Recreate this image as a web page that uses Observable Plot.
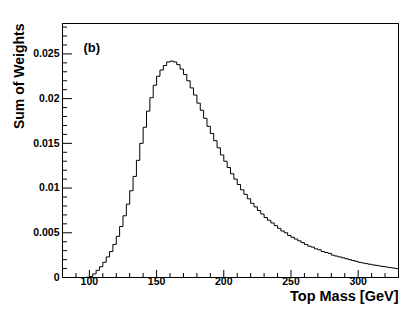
<!DOCTYPE html>
<html>
<head>
<meta charset="utf-8">
<script src="https://cdn.jsdelivr.net/npm/d3@7"></script>
<script src="https://cdn.jsdelivr.net/npm/@observablehq/plot@0.6"></script>
<style>
  html, body { margin: 0; padding: 0; background: #fff; }
</style>
</head>
<body>
<div id="chart"></div>
<script>
// Histogram: 100 bins of 2.5 GeV from 80 to 330 GeV
const binLow = 80;
const binWidth = 2.5;
const sumOfWeights = [
  0, 0, 0, 0, 0, 0, 0, 0.00002, 0.0001, 0.0004,
  0.0008, 0.0012, 0.0017, 0.0023, 0.0029, 0.0037, 0.0046, 0.0057, 0.0069, 0.0082,
  0.0097, 0.0113, 0.0131, 0.0150, 0.0168, 0.0186, 0.0201, 0.0215, 0.0225, 0.0232,
  0.0237, 0.0241, 0.0242, 0.0241, 0.0238, 0.0233, 0.0227, 0.0220, 0.0212, 0.0204,
  0.0195, 0.0187, 0.0178, 0.0169, 0.0161, 0.0153, 0.0145, 0.0137, 0.0130, 0.0123,
  0.0116, 0.0110, 0.0104, 0.0098, 0.0093, 0.0088, 0.0083, 0.0079, 0.0075, 0.0071,
  0.0067, 0.0064, 0.0061, 0.0058, 0.0055, 0.0052, 0.0050, 0.0047, 0.0045, 0.0043,
  0.0041, 0.0039, 0.0037, 0.0035, 0.0034, 0.0032, 0.0031, 0.0029, 0.0028, 0.0027,
  0.0025, 0.0024, 0.0023, 0.0022, 0.0021, 0.0020, 0.0019, 0.0018, 0.00170, 0.00162,
  0.00155, 0.00148, 0.00141, 0.00135, 0.00129, 0.00123, 0.00117, 0.00111, 0.00106, 0.00100
];
const xMajorTicks = [100, 150, 200, 250, 300];
const xMinorTicks = [90, 110, 120, 130, 140, 160, 170, 180, 190, 210, 220, 230, 240, 260, 270, 280, 290, 310, 320];
const yMajorTicks = [0, 0.005, 0.01, 0.015, 0.02, 0.025];
const yMinorTicks = [0.001, 0.002, 0.003, 0.004, 0.006, 0.007, 0.008, 0.009, 0.011, 0.012, 0.013, 0.014,
  0.016, 0.017, 0.018, 0.019, 0.021, 0.022, 0.023, 0.024, 0.026, 0.027, 0.028];
const xTitle = "Top Mass [GeV]";
const yTitle = "Sum of Weights";
const panelLabel = "(b)";

const xDomain = [80, 330];
const yDomain = [0, 0.0284];

// step outline points: each bin's left edge, plus final right edge
const steps = sumOfWeights.map((v, i) => ({x: binLow + i * binWidth, y: v}));
steps.push({x: binLow + sumOfWeights.length * binWidth, y: sumOfWeights[sumOfWeights.length - 1]});

const W = 420, H = 311;
const mL = 62, mR = 22, mT = 23, mB = 34;
const frameW = W - mL - mR, frameH = H - mT - mB;

const font = "'Liberation Sans', Arial, Helvetica, sans-serif";

const chart = Plot.plot({
  width: W,
  height: H,
  marginLeft: mL,
  marginRight: mR,
  marginTop: mT,
  marginBottom: mB,
  style: {fontFamily: font, fontWeight: "bold", background: "#fff", color: "#000"},
  x: {domain: xDomain, label: null},
  y: {domain: yDomain, label: null},
  marks: [
    Plot.axisX({ticks: xMajorTicks, tickSize: 0, tickPadding: 0, fontSize: 10.5, fontWeight: "bold", tickFormat: d => String(d)}),
    Plot.axisY({ticks: yMajorTicks, tickSize: 0, tickPadding: 3, fontSize: 10.5, fontWeight: "bold", tickFormat: d => String(d)}),
    // inward ticks
    Plot.ruleX(xMajorTicks, {x: d => d, stroke: "#000", strokeWidth: 1, insetTop: frameH - 7}),
    Plot.ruleX(xMinorTicks, {x: d => d, stroke: "#000", strokeWidth: 1, insetTop: frameH - 4}),
    Plot.ruleY(yMajorTicks, {y: d => d, stroke: "#000", strokeWidth: 1, insetRight: frameW - 10}),
    Plot.ruleY(yMinorTicks, {y: d => d, stroke: "#000", strokeWidth: 1, insetRight: frameW - 5}),
    Plot.line(steps, {x: "x", y: "y", curve: "step-after", stroke: "#000", strokeWidth: 1}),
    Plot.frame({stroke: "#000", strokeWidth: 1}),
    Plot.text([xTitle], {frameAnchor: "bottom-right", textAnchor: "end", lineAnchor: "top", dy: 13, fontSize: 14.5, fontWeight: "bold", fill: "#000"}),
    Plot.text([yTitle], {frameAnchor: "top-left", rotate: -90, textAnchor: "end", lineAnchor: "middle", dx: -43, fontSize: 14, fontWeight: "bold", fill: "#000"}),
    Plot.text([panelLabel], {frameAnchor: "top-left", textAnchor: "start", lineAnchor: "top", dx: 21, dy: 19, fontSize: 13, fontWeight: "bold", fill: "#000"})
  ]
});
document.getElementById("chart").appendChild(chart);
</script>
</body>
</html>
